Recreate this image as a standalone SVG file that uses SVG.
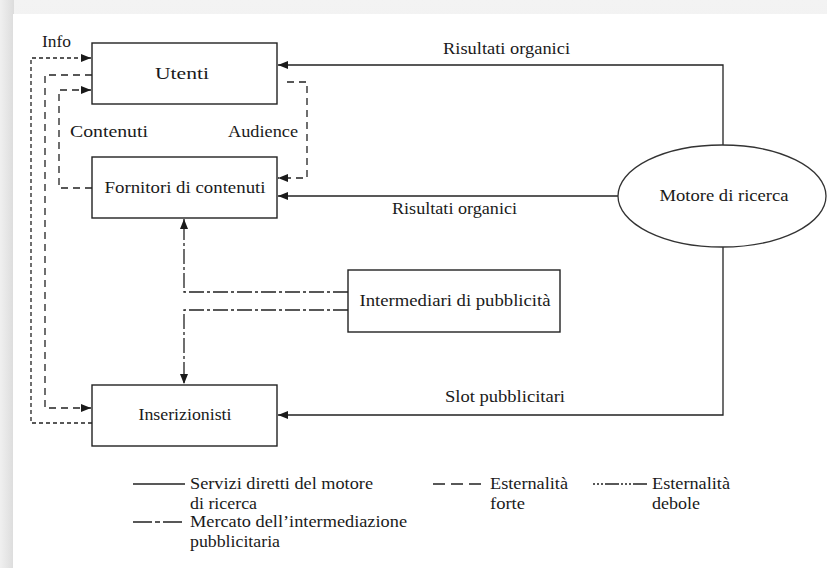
<svg xmlns="http://www.w3.org/2000/svg" width="827" height="568" viewBox="0 0 827 568">
<defs>
<linearGradient id="gl" x1="0" y1="0" x2="1" y2="0"><stop offset="0" stop-color="#f0f0f0"/><stop offset="1" stop-color="#dcdcdc"/></linearGradient>
<linearGradient id="gt" x1="0" y1="0" x2="0" y2="1"><stop offset="0" stop-color="#f3f3f3"/><stop offset="1" stop-color="#e2e2e2"/></linearGradient>
<marker id="ah" viewBox="0 0 10 8" refX="10" refY="4" markerWidth="10" markerHeight="8" markerUnits="userSpaceOnUse" orient="auto"><path d="M0,0 L10,4 L0,8 z" fill="#1a1a1a"/></marker>
</defs>
<style>
.box{fill:#fff;stroke:#222;stroke-width:1.4}
.t{font-family:"Liberation Serif","DejaVu Serif",serif;font-size:16px;fill:#1a1a1a}
.c{text-anchor:middle}
.ln{fill:none;stroke:#222;stroke-width:1.3}
.sd{stroke-dasharray:4 3}
.ld{stroke-dasharray:7 5}
.dd{stroke-dasharray:15 3 3 3}
</style>
<rect x="0" y="0" width="827" height="568" fill="url(#gt)"/>
<rect x="0" y="0" width="14" height="568" fill="url(#gl)"/>
<rect x="13" y="14" width="814" height="554" fill="#fff"/>
<g id="connectors">
<path class="ln sd" d="M92,423 H31 V58 H91" marker-end="url(#ah)"/>
<path class="ln ld" d="M92,75 H45 V408 H91" marker-end="url(#ah)"/>
<path class="ln ld" d="M92,188 H59 V90 H91" marker-end="url(#ah)"/>
<path class="ln ld" d="M287,82 H307 V178 H278" marker-end="url(#ah)"/>
<path class="ln" d="M723,145 V65 H278" marker-end="url(#ah)"/>
<path class="ln" d="M618,196 H278" marker-end="url(#ah)"/>
<path class="ln" d="M723,247 V415 H278" marker-end="url(#ah)"/>
<path class="ln dd" d="M348,292 H184 V219" marker-end="url(#ah)"/>
<path class="ln dd" d="M348,310 H184 V384" marker-end="url(#ah)"/>
<text class="t" x="42" y="47" textLength="29" lengthAdjust="spacingAndGlyphs">Info</text>
<text class="t" x="70" y="137" textLength="78" lengthAdjust="spacingAndGlyphs">Contenuti</text>
<text class="t" x="228" y="137" textLength="70" lengthAdjust="spacingAndGlyphs">Audience</text>
<text class="t" x="443" y="54" textLength="127" lengthAdjust="spacingAndGlyphs">Risultati organici</text>
<text class="t" x="392" y="214" textLength="125" lengthAdjust="spacingAndGlyphs">Risultati organici</text>
<text class="t" x="445" y="402" textLength="120" lengthAdjust="spacingAndGlyphs">Slot pubblicitari</text>
</g>
<g id="utenti"><rect class="box" x="92" y="43" width="185" height="61"/><text class="t c" x="182" y="79" textLength="54" lengthAdjust="spacingAndGlyphs">Utenti</text></g>
<g id="fornitori"><rect class="box" x="92" y="157" width="185" height="61"/><text class="t c" x="185" y="193" textLength="161" lengthAdjust="spacingAndGlyphs">Fornitori di contenuti</text></g>
<g id="intermediari"><rect class="box" x="348" y="270" width="212" height="62"/><text class="t c" x="455" y="306" textLength="191" lengthAdjust="spacingAndGlyphs">Intermediari di pubblicità</text></g>
<g id="inserzionisti"><rect class="box" x="92" y="385" width="185" height="61"/><text class="t c" x="185" y="420" textLength="93" lengthAdjust="spacingAndGlyphs">Inserizionisti</text></g>
<g id="motore"><ellipse cx="722" cy="196" rx="104" ry="51" fill="#fff" stroke="#333" stroke-width="1.3"/><text class="t c" x="724" y="201" textLength="129" lengthAdjust="spacingAndGlyphs">Motore di ricerca</text></g>
<g id="legend">
<line class="ln" x1="133" y1="484" x2="185" y2="484"/>
<text class="t" x="190" y="489" textLength="183" lengthAdjust="spacingAndGlyphs">Servizi diretti del motore</text>
<text class="t" x="190" y="509" textLength="67" lengthAdjust="spacingAndGlyphs">di ricerca</text>
<line class="ln" x1="133" y1="522" x2="185" y2="522" style="stroke-dasharray:19 3 5 3 19"/>
<text class="t" x="190" y="527" textLength="217" lengthAdjust="spacingAndGlyphs">Mercato dell’intermediazione</text>
<text class="t" x="190" y="547" textLength="90" lengthAdjust="spacingAndGlyphs">pubblicitaria</text>
<line class="ln" x1="433" y1="484" x2="482" y2="484" style="stroke-dasharray:12 6"/>
<text class="t" x="490" y="489" textLength="78" lengthAdjust="spacingAndGlyphs">Esternalità</text>
<text class="t" x="490" y="509" textLength="35" lengthAdjust="spacingAndGlyphs">forte</text>
<line class="ln" x1="593" y1="484" x2="647" y2="484" style="stroke-dasharray:2 2 2 2 2 2 14 2 2 2 2 2 2 2 20"/>
<text class="t" x="652" y="489" textLength="78" lengthAdjust="spacingAndGlyphs">Esternalità</text>
<text class="t" x="652" y="509" textLength="48" lengthAdjust="spacingAndGlyphs">debole</text>
</g>
</svg>
